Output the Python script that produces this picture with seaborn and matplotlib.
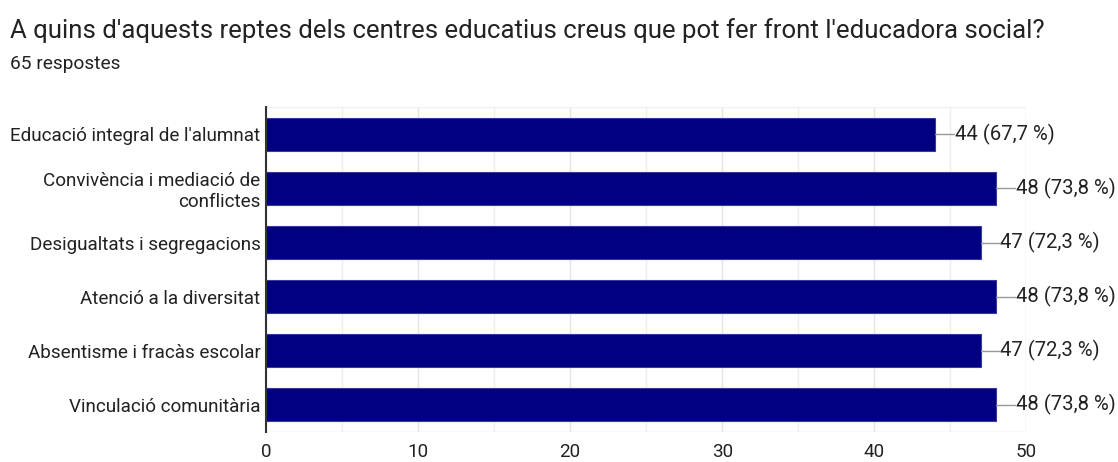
import pandas as pd
import seaborn as sns
import matplotlib.pyplot as plt
from matplotlib.ticker import MultipleLocator

# dades de l'enquesta
categories = [
    "Educació integral de l'alumnat",
    "Convivència i mediació de\nconflictes",
    "Desigualtats i segregacions",
    "Atenció a la diversitat",
    "Absentisme i fracàs escolar",
    "Vinculació comunitària",
]
counts = [44, 48, 47, 48, 47, 48]
percents = ["67,7", "73,8", "72,3", "73,8", "72,3", "73,8"]
total = 65

df = pd.DataFrame({"repte": categories, "n": counts})

sns.set_style("white")
plt.rcParams['font.family'] = ['Roboto', 'DejaVu Sans']

fig = plt.figure(figsize=(11.18, 4.62), dpi=100)
ax = fig.add_axes([0.238, 0.065, 0.68, 0.703])

sns.barplot(data=df, x="n", y="repte", orient="h", color="#000080", saturation=1,
            width=0.61, edgecolor="#3838a0", linewidth=0.8, ax=ax, zorder=3)

ax.set_xlim(0, 50)
ax.set_ylim(5.5, -0.5)
ax.xaxis.set_major_locator(MultipleLocator(10))
ax.xaxis.set_minor_locator(MultipleLocator(5))
ax.grid(True, which="major", axis="x", color="#e4e4e4", lw=1, zorder=0)
ax.grid(True, which="minor", axis="x", color="#efefef", lw=1, zorder=0)
ax.axhline(5.5, color="#e4e4e4", lw=1, zorder=1)
ax.axhline(-0.5, color="#f0f0f0", lw=1, zorder=1)
ax.axvline(50, color="#f0f0f0", lw=1, zorder=1)

for s in ["top", "right", "bottom"]:
    ax.spines[s].set_visible(False)
ax.spines["left"].set_color("#333333")
ax.spines["left"].set_linewidth(1.5)
ax.spines["left"].set_zorder(4)

ax.set_xlabel("")
ax.set_ylabel("")
ax.tick_params(axis="both", length=0, labelsize=13.6, labelcolor="#222222")
ax.tick_params(axis="x", pad=8)
ax.tick_params(axis="y", pad=4)

# etiquetes amb línia guia
for i, (n, p) in enumerate(zip(counts, percents)):
    ax.plot([n, n + 1.25], [i, i], color="#999999", lw=1, zorder=4, clip_on=False)
    ax.text(n + 1.3, i, f"{n} ({p} %)", va="center", ha="left",
            fontsize=14.6, color="#222222", clip_on=False)

fig.text(0.009, 0.918, "A quins d'aquests reptes dels centres educatius creus que pot fer front l'educadora social?",
         fontsize=18.5, color="#222222", va="baseline")
fig.text(0.009, 0.851, f"{total} respostes", fontsize=13.8, color="#222222", va="baseline")

fig.savefig("out.png", dpi=100)
